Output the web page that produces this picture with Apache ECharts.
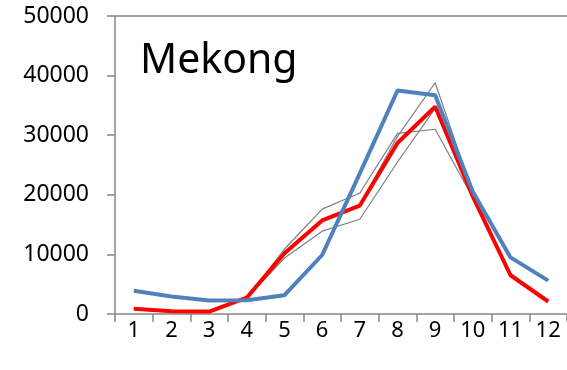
<!DOCTYPE html>
<html>
<head>
<meta charset="utf-8">
<script src="https://cdn.jsdelivr.net/npm/echarts@6/dist/echarts.min.js"></script>
<style>
html,body{margin:0;padding:0;background:#fff;}
#chart{width:567px;height:370px;}
</style>
</head>
<body>
<div id="chart"></div>
<script>
const months = ['1','2','3','4','5','6','7','8','9','10','11','12'];
const yTicks = [0, 10000, 20000, 30000, 40000, 50000];
const blueSeries = [3900, 2950, 2250, 2300, 3150, 9900, 23600, 37500, 36700, 20500, 9500, 5600];
const redSeries = [900, 450, 400, 2750, 10200, 15700, 18200, 28700, 34800, 19700, 6500, 2100];
const grayA = [900, 450, 400, 2700, 10900, 17600, 20300, 30300, 31000, 19500, 6800, 2200];
const grayB = [950, 500, 450, 2800, 10300, 15600, 18300, 29800, 38800, 20300, 6600, 2100];
const grayC = [850, 400, 350, 2650, 9400, 13900, 15900, 25500, 34500, 19800, 6400, 2000];
const titleText = 'Mekong';

const axisColor = '#868686';
const font = '"Noto Sans", "Open Sans", sans-serif';

function grayLine(data) {
  return { type: 'line', data: data, symbol: 'none', z: 2,
    lineStyle: { color: '#7f7f7f', width: 1.2 } };
}

const chart = echarts.init(document.getElementById('chart'), null, { renderer: 'canvas' });
chart.setOption({
  animation: false,
  backgroundColor: '#ffffff',
  title: {
    text: titleText, left: 135, top: 36,
    textStyle: { fontFamily: font, fontSize: 41, fontWeight: 'normal', color: '#000' }
  },
  grid: { left: 115, right: -3, top: 16, bottom: 56, containLabel: false },
  xAxis: [{
    type: 'category', data: months, boundaryGap: true,
    axisLine: { lineStyle: { color: axisColor, width: 1.5 } },
    axisTick: { show: true, inside: false, length: 8, alignWithLabel: false, lineStyle: { color: axisColor, width: 1.5 } },
    axisLabel: { color: '#000', fontFamily: font, fontSize: 22, margin: 6 },
    splitLine: { show: false }
  }, {
    type: 'category', data: months, position: 'top',
    axisLine: { show: true, onZero: false, lineStyle: { color: axisColor, width: 1.5 } },
    axisTick: { show: false }, axisLabel: { show: false }, splitLine: { show: false }
  }],
  yAxis: {
    type: 'value', min: yTicks[0], max: yTicks[yTicks.length - 1], interval: yTicks[1] - yTicks[0],
    axisLine: { show: true, lineStyle: { color: axisColor, width: 1.5 } },
    axisTick: { show: true, inside: false, length: 8, lineStyle: { color: axisColor, width: 1.5 } },
    axisLabel: { color: '#000', fontFamily: font, fontSize: 23, margin: 26,
      formatter: function (v) { return String(v); } },
    splitLine: { show: false }
  },
  series: [
    grayLine(grayA),
    grayLine(grayB),
    grayLine(grayC),
    { type: 'line', data: redSeries, symbol: 'none', z: 3,
      lineStyle: { color: '#ff0000', width: 4 } },
    { type: 'line', data: blueSeries, symbol: 'none', z: 4,
      lineStyle: { color: '#4f81bd', width: 4 } }
  ]
});
</script>
</body>
</html>
